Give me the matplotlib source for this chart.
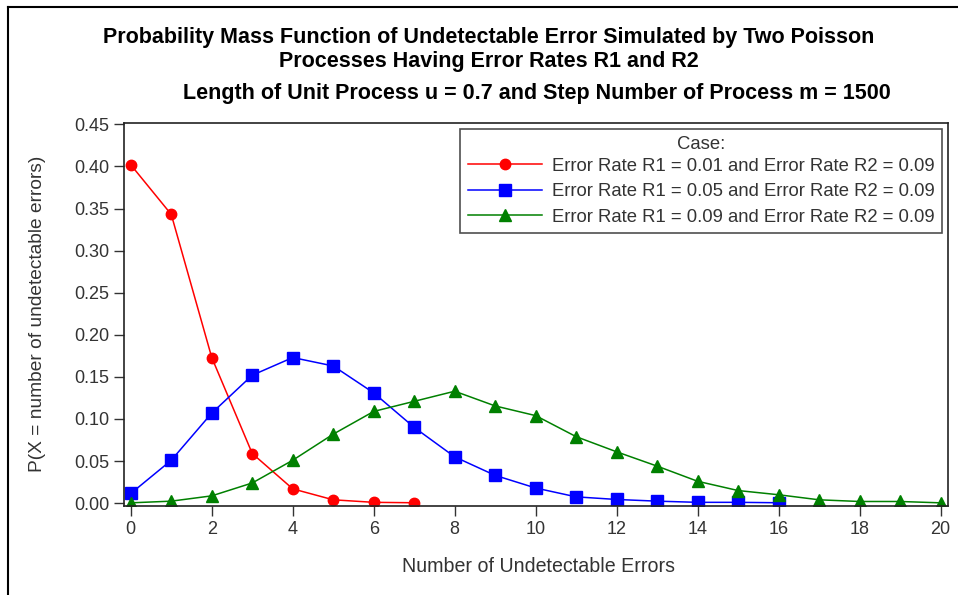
import matplotlib
matplotlib.use("Agg")
import matplotlib.pyplot as plt
from matplotlib.lines import Line2D

plt.rcParams['font.family'] = ['Liberation Sans', 'DejaVu Sans']

x_red = [0, 1, 2, 3, 4, 5, 6, 7]
y_red = [0.402, 0.343, 0.173, 0.059, 0.017, 0.004, 0.001, 0.0005]

x_blue = list(range(0, 17))
y_blue = [0.0115, 0.051, 0.107, 0.152, 0.173, 0.163, 0.131, 0.090, 0.055,
          0.033, 0.018, 0.0075, 0.0044, 0.0024, 0.001, 0.001, 0.0005]

x_green = list(range(0, 21))
y_green = [0.0004, 0.0024, 0.0087, 0.024, 0.051, 0.082, 0.109, 0.121, 0.133,
           0.1155, 0.104, 0.079, 0.061, 0.044, 0.026, 0.015, 0.010, 0.004,
           0.002, 0.002, 0.0004]

labels = ["Error Rate R1 = 0.01 and Error Rate R2 = 0.09",
          "Error Rate R1 = 0.05 and Error Rate R2 = 0.09",
          "Error Rate R1 = 0.09 and Error Rate R2 = 0.09"]

xticks = [0, 2, 4, 6, 8, 10, 12, 14, 16, 18, 20]
yticks = [0.00, 0.05, 0.10, 0.15, 0.20, 0.25, 0.30, 0.35, 0.40, 0.45]
ytick_labels = ["0.00", "0.05", "0.10", "0.15", "0.20", "0.25", "0.30", "0.35", "0.40", "0.45"]

title1 = "Probability Mass Function of Undetectable Error Simulated by Two Poisson"
title2 = "Processes Having Error Rates R1 and R2"
title3 = "Length of Unit Process u = 0.7 and Step Number of Process m = 1500"

W, H = 958, 595
fig = plt.figure(figsize=(W / 100, H / 100), dpi=100)
fig.patch.set_facecolor('white')

ax = fig.add_axes([124.3 / W, 1 - 505.7 / H, 824 / W, 383 / H])
ax.set_xlim(-0.16, 20.19)
ax.set_ylim(-0.003, 0.452)

ax.plot(x_red, y_red, color='#FF0000', lw=1.1, marker='o', ms=7.5, label=labels[0])
ax.plot(x_blue, y_blue, color='#0000FF', lw=1.1, marker='s', ms=8, label=labels[1])
ax.plot(x_green, y_green, color='#008000', lw=1.1, marker='^', ms=8, label=labels[2])

ax.set_xticks(xticks)
ax.set_yticks(yticks)
ax.set_yticklabels(ytick_labels)
ax.tick_params(direction='out', length=7, width=1, color='#333333',
               labelsize=13, labelcolor='#333333', pad=4)
for s in ax.spines.values():
    s.set_linewidth(1.2)
    s.set_color('#222222')

renderer = fig.canvas.get_renderer()


def fit_text(x, y, s, target_w, rotation=0, maxsize=None, **kw):
    t = fig.text(x, y, s, fontsize=12, **kw)
    w = t.get_window_extent(renderer).width
    size = 12 * target_w / w
    if maxsize is not None:
        size = min(size, maxsize)
    t.set_fontsize(size)
    t.set_rotation(rotation)
    return t


fit_text(489 / W, 1 - 37 / H, title1, 815, maxsize=15.5, ha='center', va='center', fontweight='bold',
         color='black')
fit_text(489 / W, 1 - 62 / H, title2, 458, maxsize=15.5, ha='center', va='center', fontweight='bold',
         color='black')
fit_text(537 / W, 1 - 93 / H, title3, 745, maxsize=15.5, ha='center', va='center', fontweight='bold',
         color='black')

fit_text(539 / W, 1 - 566 / H, "Number of Undetectable Errors", 273, ha='center', va='center', color='#333333')
fit_text(38 / W, 1 - 314 / H, "P(X = number of undetectable errors)", 318, rotation=90, ha='center',
         va='center', color='#333333')

leg = ax.legend(loc='upper right', bbox_to_anchor=(942 / W, 1 - 129 / H), bbox_transform=fig.transFigure,
                title="Case:", fontsize=13.3, title_fontsize=13.3, frameon=True, fancybox=False,
                edgecolor='#222222', handlelength=4.0, handletextpad=0.55, borderpad=0.4,
                labelspacing=0.47, borderaxespad=0)
leg._legend_box.sep = 3
leg.get_frame().set_linewidth(1.2)
for t in leg.get_texts():
    t.set_color('#333333')
leg.get_title().set_color('#333333')

# outer border (top and left)
fig.add_artist(Line2D([8 / W, 8 / W], [0, 1 - 7 / H], transform=fig.transFigure, color='black', lw=1.5))
fig.add_artist(Line2D([8 / W, 1], [1 - 7 / H, 1 - 7 / H], transform=fig.transFigure, color='black', lw=1.5))

fig.savefig("out.png", dpi=100)
